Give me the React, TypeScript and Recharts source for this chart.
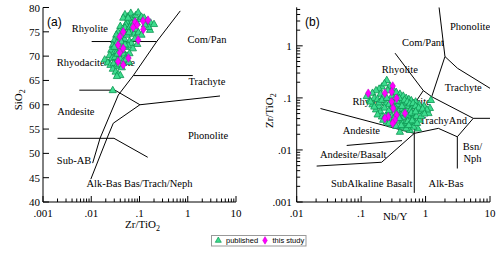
import React from 'react'
import { ScatterChart, Scatter, XAxis, YAxis } from 'recharts'

// ---- panel (a): SiO2 vs Zr/TiO2 ----
const pubA: [number, number][] = [
  [0.05, 78.6], [0.058, 78.2], [0.066, 78.9], [0.072, 77.8], [0.083, 78.4], [0.094, 79.0], [0.078, 77.3],
  [0.061, 77.5], [0.055, 77.0], [0.068, 76.8], [0.1, 77.6], [0.11, 78.1], [0.125, 77.9], [0.14, 77.2],
  [0.17, 76.9], [0.2, 76.6], [0.165, 75.4], [0.155, 76.0], [0.046, 77.9], [0.052, 76.5],
  [0.04, 76.2], [0.045, 75.6], [0.05, 75.9], [0.057, 75.3], [0.063, 76.0], [0.07, 75.1], [0.077, 74.6],
  [0.085, 75.6], [0.095, 74.9], [0.11, 74.4], [0.036, 75.0], [0.033, 74.4], [0.038, 73.8], [0.043, 74.1],
  [0.049, 73.5], [0.055, 74.4], [0.062, 73.1], [0.068, 72.7], [0.08, 73.6], [0.09, 72.5], [0.03, 73.3],
  [0.034, 72.8], [0.039, 72.0], [0.045, 72.6], [0.052, 71.9], [0.058, 72.2], [0.073, 71.6], [0.028, 72.3],
  [0.026, 71.3], [0.03, 70.8], [0.034, 71.0], [0.037, 70.3], [0.041, 70.9], [0.048, 70.5], [0.055, 70.1],
  [0.062, 70.6], [0.024, 70.2], [0.027, 69.6], [0.031, 69.8], [0.035, 69.2], [0.04, 69.5], [0.046, 69.0],
  [0.052, 69.3], [0.06, 68.8], [0.019, 69.3], [0.022, 68.7], [0.025, 68.2], [0.029, 68.5], [0.033, 67.9],
  [0.038, 68.3], [0.043, 67.7], [0.028, 67.4], [0.032, 66.8], [0.036, 66.3], [0.04, 66.1], [0.034, 65.9],
  [0.0279, 63.0], [0.06, 74.9], [0.072, 76.3], [0.088, 76.9], [0.042, 73.0], [0.05, 72.4], [0.035, 70.5],
  [0.044, 71.3], [0.03, 71.9], [0.058, 77.9], [0.13, 76.5],
]
const studyA: [number, number][] = [
  [0.15, 77.4], [0.118, 77.2], [0.081, 77.0], [0.089, 76.4], [0.074, 75.9], [0.12, 75.5], [0.046, 75.0],
  [0.039, 74.0], [0.094, 73.3], [0.036, 72.3], [0.046, 71.6], [0.039, 70.7], [0.059, 69.6], [0.046, 68.2],
  [0.036, 68.9],
]
const diagA: [number, number][] = [[0.7, 79.3], [0.2276, 73.0], [0.0743, 66.0], [0.0364, 62.0], [0.0152, 53.1], [0.0107, 48.0]]
const rhyLineA: [number, number][] = [[0.0102, 73.0], [0.2276, 73.0]]
const traLineA: [number, number][] = [[0.0743, 66.0], [1.27, 66.0]]
const andLineA: [number, number][] = [[0.00565, 63.0], [0.031, 63.0], [0.102, 60.0], [4.66, 61.8]]
const alkLineA: [number, number][] = [[0.102, 60.0], [0.0286, 56.2], [0.0212, 53.1], [0.0098, 44.7]]
const basLineA: [number, number][] = [[0.002, 53.1], [0.0296, 53.1], [0.148, 49.2]]
const labelsA = [
  { x: 0.0094, y: 75.6, text: 'Rhyolite' },
  { x: 0.0125, y: 68.6, text: 'Rhyodacite/Dacite' },
  { x: 2.5, y: 73.5, text: 'Com/Pan' },
  { x: 2.5, y: 64.7, text: 'Trachyte' },
  { x: 0.0048, y: 58.7, text: 'Andesite' },
  { x: 2.63, y: 53.6, text: 'Phonolite' },
  { x: 0.0044, y: 48.6, text: 'Sub-AB' },
  { x: 0.1, y: 43.9, text: 'Alk-Bas Bas/Trach/Neph' },
]
const majorXA = [0.001, 0.01, 0.1, 1, 10]
const majorXALabels = ['.001', '.01', '.1', '1', '10']
const ticksYA = [40, 45, 50, 55, 60, 65, 70, 75, 80]
const ticksYALabels = ['40', '45', '50', '55', '60', '65', '70', '75', '80']

// ---- panel (b): Zr/TiO2 vs Nb/Y ----
const pubB: [number, number][] = [
  [0.25, 0.22], [0.21, 0.165], [0.23, 0.19], [0.28, 0.17], [0.19, 0.15], [0.17, 0.14], [0.31, 0.15],
  [0.26, 0.14], [0.35, 0.13], [0.15, 0.125], [0.2, 0.12], [0.4, 0.12], [0.45, 0.11], [0.137, 0.091],
  [0.122, 0.108], [0.16, 0.1], [0.18, 0.095], [0.22, 0.105], [0.3, 0.11], [0.33, 0.095], [0.5, 0.1],
  [0.55, 0.095], [0.6, 0.09], [0.7, 0.085], [0.8, 0.075], [1.21, 0.091], [1.17, 0.064], [1.11, 0.051],
  [0.95, 0.07], [1.05, 0.06],
  [0.15, 0.075], [0.19, 0.07], [0.24, 0.08], [0.27, 0.075], [0.32, 0.08], [0.37, 0.075], [0.42, 0.085],
  [0.48, 0.08], [0.53, 0.07], [0.62, 0.068], [0.75, 0.06], [0.85, 0.055], [0.17, 0.06], [0.2, 0.055],
  [0.23, 0.065], [0.29, 0.06], [0.34, 0.065], [0.39, 0.058], [0.44, 0.062], [0.5, 0.055], [0.58, 0.058],
  [0.66, 0.05], [0.18, 0.048], [0.21, 0.044], [0.26, 0.05], [0.3, 0.045], [0.35, 0.05], [0.41, 0.047],
  [0.46, 0.043], [0.55, 0.045], [0.63, 0.04], [0.72, 0.045], [0.8, 0.038],
  [0.22, 0.038], [0.25, 0.035], [0.28, 0.04], [0.32, 0.036], [0.37, 0.038], [0.43, 0.035], [0.48, 0.032],
  [0.53, 0.036], [0.6, 0.032], [0.68, 0.034], [0.3, 0.031], [0.35, 0.029], [0.4, 0.0223], [0.57, 0.0242],
  [0.76, 0.0258], [0.45, 0.028], [0.5, 0.026], [0.65, 0.028], [0.27, 0.033],
  [0.14, 0.085], [0.16, 0.068], [0.19, 0.082], [0.21, 0.092], [0.25, 0.1], [0.27, 0.058], [0.31, 0.07],
  [0.36, 0.088], [0.39, 0.1], [0.43, 0.07], [0.47, 0.092], [0.52, 0.085], [0.57, 0.078], [0.64, 0.08],
  [0.7, 0.07], [0.78, 0.065], [0.9, 0.062], [0.24, 0.045], [0.33, 0.042], [0.39, 0.041], [0.45, 0.052],
  [0.52, 0.048], [0.6, 0.052], [0.7, 0.055], [0.86, 0.045], [0.96, 0.05], [0.42, 0.03], [0.55, 0.03],
  [0.62, 0.037], [0.74, 0.033],
]
const studyB: [number, number][] = [
  [0.129, 0.123], [0.234, 0.123], [0.309, 0.169], [0.298, 0.131], [0.356, 0.098], [0.298, 0.0845],
  [0.315, 0.063], [0.356, 0.0469], [0.264, 0.0435], [0.234, 0.0405], [0.48, 0.0505], [0.336, 0.0375],
  [0.309, 0.0324],
]
const linesB: [number, number][][] = [
  [[0.336, 0.723], [0.923, 0.138], [1.245, 0.1054]],
  [[1.62, 5.5], [2.0, 0.622]],
  [[2.0, 0.622], [3.13, 0.371], [10, 0.153]],
  [[2.0, 0.622], [1.245, 0.1054]],
  [[1.245, 0.1054], [5.5, 0.0405], [10, 0.0405]],
  [[5.5, 0.0405], [3.11, 0.0179], [3.11, 0.0044]],
  [[3.11, 0.0179], [1.58, 0.026], [0.668, 0.0208]],
  [[0.668, 0.0208], [0.668, 0.0015]],
  [[0.0204, 0.0049], [0.208, 0.0058], [0.668, 0.0208]],
  [[0.0597, 0.0122], [0.43, 0.0151]],
  [[0.0234, 0.0625], [0.668, 0.0208]],
  [[0.923, 0.138], [0.685, 0.0798], [0.668, 0.0208]],
]
const labelsB = [
  { x: 4.9, y: 2.35, text: 'Phonolite' },
  { x: 0.912, y: 1.16, text: 'Com/Pant' },
  { x: 0.397, y: 0.345, text: 'Rhyolite' },
  { x: 3.85, y: 0.157, text: 'Trachyte' },
  { x: 0.298, y: 0.0845, text: 'Rhyodacite/Dacite' },
  { x: 1.88, y: 0.0375, text: 'TrachyAnd' },
  { x: 0.1007, y: 0.0233, text: 'Andesite' },
  { x: 0.0755, y: 0.0083, text: 'Andesite/Basalt' },
  { x: 5.35, y: 0.0115, text: 'Bsn/' },
  { x: 5.35, y: 0.0069, text: 'Nph' },
  { x: 0.146, y: 0.00226, text: 'SubAlkaline Basalt' },
  { x: 2.08, y: 0.00226, text: 'Alk-Bas' },
]
const majorXB = [0.01, 0.1, 1, 10]
const majorXBLabels = ['.01', '.1', '1', '10']
const majorYB = [0.001, 0.01, 0.1, 1]
const majorYBLabels = ['.001', '.01', '.1', '1']

const pts = (a: [number, number][]) => a.map(([x, y]) => ({ x, y }))

// log axes get 2..9 minor ticks between the majors
const withMinors = (majors: number[], max: number) => {
  const out: number[] = []
  majors.forEach((m) => {
    for (let k = 1; k <= 9; k++) {
      const v = +(m * k).toPrecision(6)
      if (v <= max) out.push(v)
    }
  })
  return out
}

const SERIF = 'Liberation Serif, Times New Roman, serif'

function AxisTick(props: any) {
  const { x, y, payload, side, majors, labels, gap = 4 } = props
  const v = payload.value
  const i = majors.findIndex((m: number) => Math.abs(m - v) <= Math.abs(m) * 1e-6)
  const len = i >= 0 ? 6 : 3.5
  const txt = i >= 0 && labels ? labels[i] : null
  const t = { fontSize: 11, fill: '#000', fontFamily: SERIF }
  if (side === 'bottom')
    return (
      <g>
        <line x1={x} x2={x} y1={y} y2={y - len} stroke="#000" />
        {txt && <text x={x} y={y + 10.5} textAnchor="middle" dominantBaseline="central" {...t}>{txt}</text>}
      </g>
    )
  if (side === 'top') return <line x1={x} x2={x} y1={y} y2={y + len} stroke="#000" />
  if (side === 'left')
    return (
      <g>
        <line x1={x} x2={x + len} y1={y} y2={y} stroke="#000" />
        {txt && <text x={x - gap} y={y} textAnchor="end" dominantBaseline="central" {...t}>{txt}</text>}
      </g>
    )
  return <line x1={x} x2={x - len} y1={y} y2={y} stroke="#000" />
}

const Tri = (p: any) => {
  const { cx, cy } = p
  return (
    <polygon
      points={`${cx},${cy - 3.9} ${cx + 3.6},${cy + 2.5} ${cx - 3.6},${cy + 2.5}`}
      fill="#3ddc8e"
      stroke="#0c9652"
      strokeWidth={0.8}
    />
  )
}
const Dia = (p: any) => {
  const { cx, cy } = p
  return (
    <polygon
      points={`${cx},${cy - 4.3} ${cx + 2.7},${cy} ${cx},${cy + 4.3} ${cx - 2.7},${cy}`}
      fill="#ff00ff"
      stroke="#c800c8"
      strokeWidth={0.6}
    />
  )
}
const NoDot = () => <g />
const RegionText = (p: any) => (
  <text x={p.cx} y={p.cy} textAnchor="middle" dominantBaseline="central" fontSize={10.5} fontFamily={SERIF} fill="#000">
    {p.payload.text}
  </text>
)

const XTitle = (props: any) => {
  const { viewBox, dx = 0, dy = 26, main, sub } = props
  const cx = viewBox.x + viewBox.width / 2 + dx
  return (
    <text x={cx} y={viewBox.y + dy} textAnchor="middle" fontSize={11} fontFamily={SERIF} fill="#000">
      {main}
      {sub && <tspan fontSize={8} dy={3}>{sub}</tspan>}
    </text>
  )
}
const YTitle = (props: any) => {
  const { viewBox, x, dy = 0, main, sub } = props
  const cy = viewBox.y + viewBox.height / 2 + dy
  return (
    <text x={x} y={cy} transform={`rotate(-90, ${x}, ${cy})`} textAnchor="middle" fontSize={11} fontFamily={SERIF} fill="#000">
      {main}
      {sub && <tspan fontSize={8} dy={3}>{sub}</tspan>}
    </text>
  )
}

const lineStyle = { stroke: '#000', strokeWidth: 1 }

function PanelA() {
  const xt = withMinors(majorXA.slice(0, 4), 10).concat([10])
  return (
    <ScatterChart width={250} height={253} margin={{ top: 7.5, right: 14, bottom: 21, left: 0 }}>
      <XAxis xAxisId="b" dataKey="x" type="number" scale="log" domain={[0.001, 10]} allowDataOverflow
        ticks={xt} interval={0} tickSize={0} tickMargin={0} tickLine={false} height={30}
        axisLine={{ stroke: '#000' }}
        tick={<AxisTick side="bottom" majors={majorXA} labels={majorXALabels} />}
        label={<XTitle dx={3} dy={26} main="Zr/TiO" sub="2" />} />
      <XAxis xAxisId="t" orientation="top" dataKey="x" type="number" scale="log" domain={[0.001, 10]} allowDataOverflow
        ticks={xt} interval={0} tickSize={0} tickMargin={0} tickLine={false} height={0}
        axisLine={{ stroke: '#000' }} tick={<AxisTick side="top" majors={majorXA} />} />
      <YAxis yAxisId="l" dataKey="y" type="number" domain={[40, 80]} allowDataOverflow
        ticks={ticksYA} interval={0} tickSize={0} tickMargin={0} tickLine={false} width={43}
        axisLine={{ stroke: '#000' }}
        tick={<AxisTick side="left" majors={ticksYA} labels={ticksYALabels} gap={3} />}
        label={<YTitle x={9} dy={-5} main="SiO" sub="2" />} />
      <YAxis yAxisId="r" orientation="right" dataKey="y" type="number" domain={[40, 80]} allowDataOverflow
        ticks={ticksYA} interval={0} tickSize={0} tickMargin={0} tickLine={false} width={0}
        axisLine={{ stroke: '#000' }} tick={<AxisTick side="right" majors={ticksYA} />} />
      {[diagA, rhyLineA, traLineA, andLineA, alkLineA, basLineA].map((l, k) => (
        <Scatter key={k} xAxisId="b" yAxisId="l" data={pts(l)} line={lineStyle} lineType="joint" shape={NoDot} isAnimationActive={false} />
      ))}
      <Scatter xAxisId="b" yAxisId="l" data={labelsA} shape={RegionText} isAnimationActive={false} />
      <Scatter xAxisId="b" yAxisId="l" data={pts(pubA)} shape={Tri} isAnimationActive={false} />
      <Scatter xAxisId="b" yAxisId="l" data={pts(studyA)} shape={Dia} isAnimationActive={false} />
    </ScatterChart>
  )
}

function PanelB() {
  const xt = withMinors(majorXB.slice(0, 3), 10).concat([10])
  const yt = withMinors(majorYB, 5.5)
  return (
    <ScatterChart width={250} height={253} margin={{ top: 7.3, right: 10, bottom: 21, left: 0 }}>
      <XAxis xAxisId="b" dataKey="x" type="number" scale="log" domain={[0.01, 10]} allowDataOverflow
        ticks={xt} interval={0} tickSize={0} tickMargin={0} tickLine={false} height={30}
        axisLine={{ stroke: '#000' }}
        tick={<AxisTick side="bottom" majors={majorXB} labels={majorXBLabels} />}
        label={<XTitle dx={2} dy={18} main="Nb/Y" />} />
      <XAxis xAxisId="t" orientation="top" dataKey="x" type="number" scale="log" domain={[0.01, 10]} allowDataOverflow
        ticks={xt} interval={0} tickSize={0} tickMargin={0} tickLine={false} height={0}
        axisLine={{ stroke: '#000' }} tick={<AxisTick side="top" majors={majorXB} />} />
      <YAxis yAxisId="l" dataKey="y" type="number" scale="log" domain={[0.001, 5.5]} allowDataOverflow
        ticks={yt} interval={0} tickSize={0} tickMargin={0} tickLine={false} width={46.7}
        axisLine={{ stroke: '#000' }}
        tick={<AxisTick side="left" majors={majorYB} labels={majorYBLabels} gap={5} />}
        label={<YTitle x={12} dy={6} main="Zr/TiO" sub="2" />} />
      <YAxis yAxisId="r" orientation="right" dataKey="y" type="number" scale="log" domain={[0.001, 5.5]} allowDataOverflow
        ticks={yt} interval={0} tickSize={0} tickMargin={0} tickLine={false} width={0}
        axisLine={{ stroke: '#000' }} tick={<AxisTick side="right" majors={majorYB} />} />
      {linesB.map((l, k) => (
        <Scatter key={k} xAxisId="b" yAxisId="l" data={pts(l)} line={lineStyle} lineType="joint" shape={NoDot} isAnimationActive={false} />
      ))}
      <Scatter xAxisId="b" yAxisId="l" data={labelsB} shape={RegionText} isAnimationActive={false} />
      <Scatter xAxisId="b" yAxisId="l" data={pts(pubB)} shape={Tri} isAnimationActive={false} />
      <Scatter xAxisId="b" yAxisId="l" data={pts(studyB)} shape={Dia} isAnimationActive={false} />
    </ScatterChart>
  )
}

export default function App() {
  const sans = 'Liberation Sans, Arial, sans-serif'
  return (
    <div style={{ position: 'absolute', left: 0, top: 0, width: 500, height: 253, background: '#fff' }}>
      <div style={{ position: 'absolute', left: 0, top: 0 }}>
        <PanelA />
      </div>
      <div style={{ position: 'absolute', left: 250, top: 0 }}>
        <PanelB />
      </div>
      <svg width={500} height={253} style={{ position: 'absolute', left: 0, top: 0, pointerEvents: 'none' }}>
        <text x={47} y={22} dominantBaseline="central" fontSize={12} fontFamily={sans}>(a)</text>
        <text x={305} y={22} dominantBaseline="central" fontSize={12} fontFamily={sans}>(b)</text>
        <rect x={211.5} y={235.5} width={94.5} height={10.5} fill="#fff" stroke="#999" />
        <polygon points="218.3,237 221.3,242.3 215.3,242.3" fill="#3ddc8e" stroke="#0c9652" strokeWidth={0.7} />
        <text x={226} y={240.8} dominantBaseline="central" fontSize={7.5} fontFamily={sans}>published</text>
        <polygon points="265,236.6 267.3,240.4 265,244.2 262.7,240.4" fill="#ff00ff" stroke="#c800c8" strokeWidth={0.5} />
        <text x={272.5} y={240.8} dominantBaseline="central" fontSize={7.5} fontFamily={sans}>this study</text>
      </svg>
    </div>
  )
}
